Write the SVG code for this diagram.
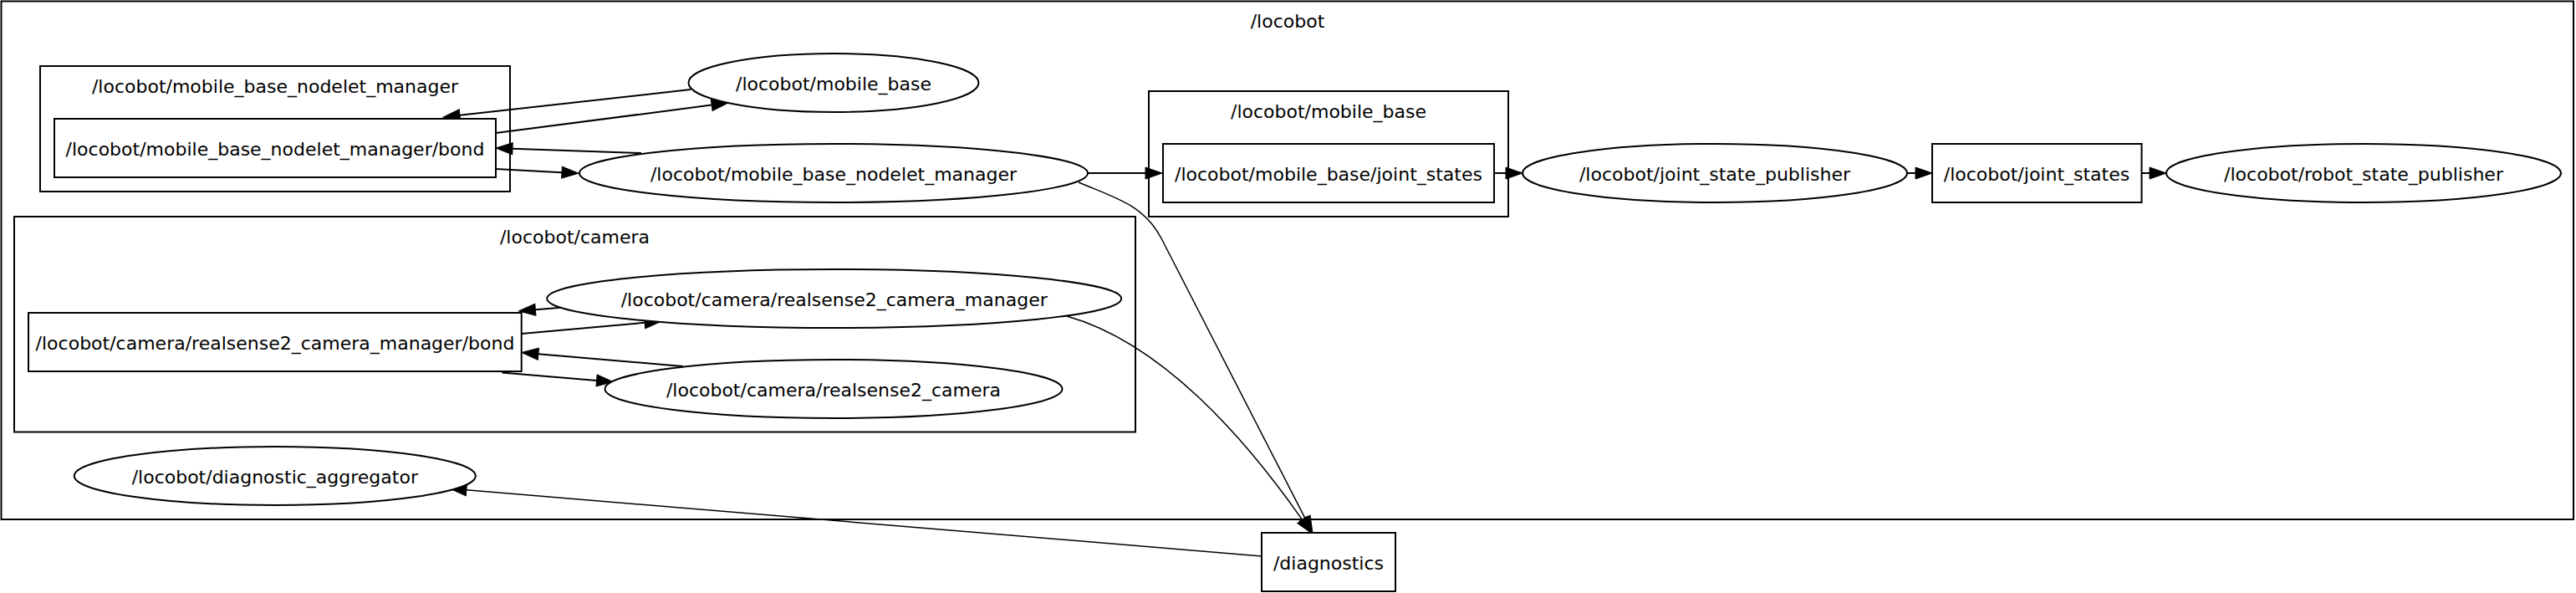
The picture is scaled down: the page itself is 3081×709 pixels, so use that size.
<svg xmlns="http://www.w3.org/2000/svg" width="3081" height="709" viewBox="0 0 3081 709">
<style>
  .cl { fill: none; stroke: #000; stroke-width: 2; }
  .nd { fill: #fff; stroke: #000; stroke-width: 2; }
  .t { font-family: "DejaVu Sans", "Liberation Sans", sans-serif; font-size: 22px; text-anchor: middle; fill: #000; }
  .e { fill: none; stroke: #000; stroke-width: 2; marker-end: url(#ah); }
  .ed { fill: none; stroke: #000; stroke-width: 1.5; marker-end: url(#ah); }
</style>
<defs>
  <marker id="ah" markerUnits="userSpaceOnUse" markerWidth="22" markerHeight="16" refX="0" refY="7" orient="auto" viewBox="0 0 22 14" overflow="visible">
    <path d="M0,0 L20,7 L0,14 z" fill="#000" stroke="#000" stroke-width="1"/>
  </marker>
</defs>
<rect width="3081" height="709" fill="#fff"/>

<g id="cluster_locobot">
  <rect class="cl" x="1.5" y="1.5" width="3076.5" height="619.5"/>
  <text class="t" x="1540" y="33">/locobot</text>
</g>
<g id="cluster_mobile_base_nodelet_manager">
  <rect class="cl" x="48" y="79" width="562" height="150"/>
  <text class="t" x="329" y="111">/locobot/mobile_base_nodelet_manager</text>
</g>
<g id="cluster_mobile_base">
  <rect class="cl" x="1374" y="109" width="430" height="150"/>
  <text class="t" x="1589" y="141">/locobot/mobile_base</text>
</g>
<g id="cluster_camera">
  <rect class="cl" x="17" y="259" width="1341" height="257.5"/>
  <text class="t" x="687.5" y="291">/locobot/camera</text>
</g>

<g id="connectors">
  <path class="e" d="M826,107 L550,137.8"/>
  <path class="e" d="M593,159 L851.2,125.6"/>
  <path class="e" d="M767,183 L613,177.7"/>
  <path class="e" d="M593,202 L672,206.2"/>
  <path class="e" d="M1301,207 L1370,207"/>
  <path class="e" d="M1787,207 L1801,207"/>
  <path class="e" d="M2281,207 L2291,207"/>
  <path class="e" d="M2561.5,207 L2571,207"/>
  <path class="ed" d="M1290,218 C1335,237 1368,245 1389,285 L1560.8,619.3"/>
  <path class="ed" d="M1276,378 C1390,410 1490,525 1557.5,621.4"/>
  <path class="ed" d="M1509,665 L557.9,585.7"/>
  <path class="e" d="M674,367.5 L640.4,370.3"/>
  <path class="e" d="M623.7,399 L771.1,385.8"/>
  <path class="e" d="M817,438 L643.9,423.2"/>
  <path class="e" d="M600.4,445.5 L713.6,454.9"/>
</g>

<g id="n_mobile_base">
  <ellipse class="nd" cx="997" cy="99" rx="173.5" ry="35"/>
  <text class="t" x="997" y="108">/locobot/mobile_base</text>
</g>
<g id="n_mobile_base_nodelet_manager">
  <ellipse class="nd" cx="997" cy="207" rx="304" ry="35"/>
  <text class="t" x="997" y="216">/locobot/mobile_base_nodelet_manager</text>
</g>
<g id="t_mobile_base_nodelet_manager_bond">
  <rect class="nd" x="65" y="142" width="528" height="70"/>
  <text class="t" x="329" y="186">/locobot/mobile_base_nodelet_manager/bond</text>
</g>
<g id="t_mobile_base_joint_states">
  <rect class="nd" x="1391" y="172" width="396" height="70"/>
  <text class="t" x="1589" y="216">/locobot/mobile_base/joint_states</text>
</g>
<g id="n_joint_state_publisher">
  <ellipse class="nd" cx="2051" cy="207" rx="230" ry="35"/>
  <text class="t" x="2051" y="216">/locobot/joint_state_publisher</text>
</g>
<g id="t_joint_states">
  <rect class="nd" x="2311" y="172" width="250.5" height="70"/>
  <text class="t" x="2436" y="216">/locobot/joint_states</text>
</g>
<g id="n_robot_state_publisher">
  <ellipse class="nd" cx="2827" cy="207" rx="236" ry="35"/>
  <text class="t" x="2827" y="216">/locobot/robot_state_publisher</text>
</g>
<g id="t_camera_manager_bond">
  <rect class="nd" x="34" y="374" width="589.7" height="70"/>
  <text class="t" x="329" y="418">/locobot/camera/realsense2_camera_manager/bond</text>
</g>
<g id="n_camera_manager">
  <ellipse class="nd" cx="997.7" cy="357" rx="343.5" ry="35"/>
  <text class="t" x="997.7" y="366">/locobot/camera/realsense2_camera_manager</text>
</g>
<g id="n_realsense2_camera">
  <ellipse class="nd" cx="997" cy="465" rx="273.5" ry="35"/>
  <text class="t" x="997" y="474">/locobot/camera/realsense2_camera</text>
</g>
<g id="n_diagnostic_aggregator">
  <ellipse class="nd" cx="328.8" cy="569" rx="240" ry="35"/>
  <text class="t" x="328.8" y="578">/locobot/diagnostic_aggregator</text>
</g>
<g id="t_diagnostics">
  <rect class="nd" x="1509" y="637" width="160" height="70"/>
  <text class="t" x="1589" y="681">/diagnostics</text>
</g>
</svg>
